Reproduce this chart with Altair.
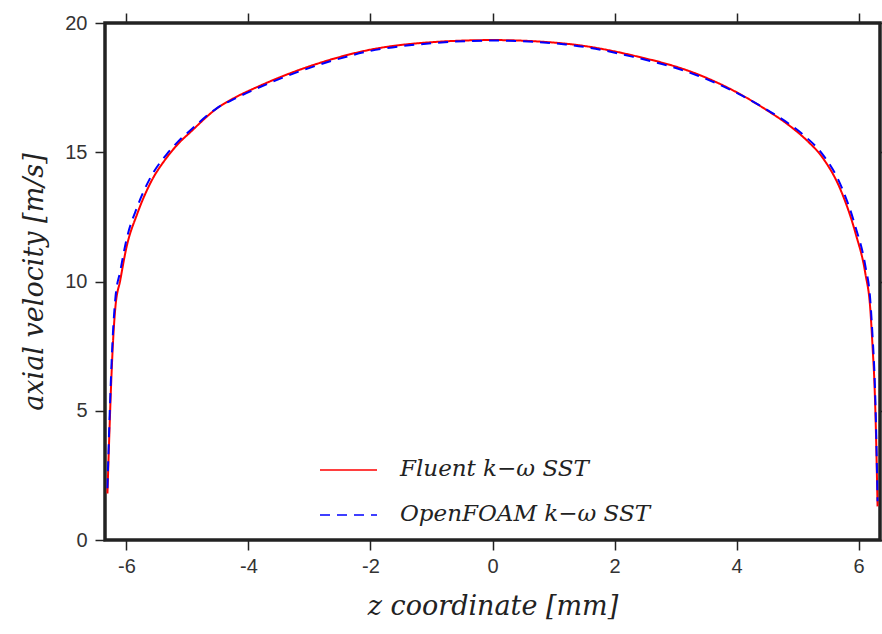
import altair as alt
import pandas as pd

z_values = [-6.31, -6.28, -6.25, -6.22, -6.18, -6.1, -6.0, -5.82, -5.61, -5.33, -5.15, -4.95, -4.52,
            -4.2, -3.86, -3.15, -2.6, -2.06, -0.98, 0.0, 1.2, 2.29, 3.38, 4.04, 4.5, 4.86, 5.15, 5.4,
            5.73, 5.95, 6.11, 6.19, 6.23, 6.26, 6.28, 6.31]
u_fluent = [1.8, 4.0, 6.0, 7.6, 9.0, 10.05, 11.3, 12.63, 13.79, 14.82, 15.33, 15.78, 16.69,
            17.14, 17.52, 18.2, 18.62, 18.94, 19.26, 19.34, 19.2, 18.75, 18.0, 17.27, 16.62, 16.04,
            15.46, 14.82, 13.4, 11.86, 10.31, 8.96, 7.4, 6.0, 4.5, 1.3]
u_openfoam = [2.0, 4.4, 6.4, 8.0, 9.35, 10.4, 11.6, 12.9, 14.0, 14.95, 15.42, 15.85, 16.7,
              17.1, 17.47, 18.14, 18.56, 18.89, 19.22, 19.32, 19.17, 18.7, 17.95, 17.25, 16.64, 16.1,
              15.56, 14.95, 13.6, 12.1, 10.6, 9.3, 7.8, 6.4, 4.9, 1.5]

series_names = ["Fluent k\u2212\u03c9 SST", "OpenFOAM k\u2212\u03c9 SST"]
series_colors = ["#ff0000", "#0000ff"]
series_dashes = [[1, 0], [10, 7]]
x_ticks = [-6, -4, -2, 0, 2, 4, 6]
y_ticks = [0, 5, 10, 15, 20]

df = pd.concat([
    pd.DataFrame({"z": z_values, "u": u_fluent, "series": series_names[0], "o": range(len(z_values))}),
    pd.DataFrame({"z": z_values, "u": u_openfoam, "series": series_names[1], "o": range(len(z_values))}),
])
legend_df = pd.DataFrame({"series": series_names, "row": [0, 1]})

tick_color = "#222222"
label_font = "Liberation Sans"
title_font = "DejaVu Serif"

xscale = alt.Scale(domain=[-6.35, 6.35], nice=False, zero=False)
yscale = alt.Scale(domain=[0, 20], nice=False)
cscale = alt.Scale(domain=series_names, range=series_colors)
dscale = alt.Scale(domain=series_names, range=series_dashes)

main = alt.Chart(df).mark_line(strokeWidth=2, interpolate="monotone").encode(
    x=alt.X("z:Q", scale=xscale,
            axis=alt.Axis(values=x_ticks, title="z coordinate [mm]", domain=False, grid=False,
                          tickSize=10, tickWidth=1.5, tickColor=tick_color, labelFont=label_font,
                          labelFontSize=20, labelColor="#333333", labelPadding=6,
                          labelExpr="replace(datum.label, '\u2212', '-')",
                          titleFont=title_font, titleFontStyle="italic", titleFontWeight="normal",
                          titleFontSize=27, titleColor="#222222", titlePadding=17)),
    y=alt.Y("u:Q", scale=yscale,
            axis=alt.Axis(values=y_ticks, title="axial velocity [m/s]", domain=False, grid=False,
                          tickSize=10, tickWidth=1.5, tickColor=tick_color, labelFont=label_font,
                          labelFontSize=20, labelColor="#333333", labelPadding=8,
                          titleFont=title_font, titleFontStyle="italic", titleFontWeight="normal",
                          titleFontSize=27, titleColor="#222222", titlePadding=16)),
    color=alt.Color("series:N", scale=cscale, legend=None),
    strokeDash=alt.StrokeDash("series:N", scale=dscale, legend=None),
    order="o:Q",
)

frame = alt.Chart(df).mark_line(opacity=0).encode(
    x=alt.X("z:Q", scale=xscale,
            axis=alt.Axis(values=x_ticks, orient="top", labels=False, title=None, domain=False,
                          grid=False, tickSize=10, tickWidth=1.5, tickColor=tick_color)),
    y=alt.Y("u:Q", scale=yscale,
            axis=alt.Axis(values=y_ticks, orient="right", labels=False, title=None, domain=False,
                          grid=False, tickSize=10, tickWidth=1.5, tickColor=tick_color)),
    detail="series:N",
    order="o:Q",
)

leg_y = alt.Y("row:Q", scale=alt.Scale(domain=[0, 1], range=[447, 492]), axis=None)

leg_rule = alt.Chart(legend_df).mark_rule(strokeWidth=1.5).encode(
    x=alt.value(215), x2=alt.value(272), y=leg_y,
    color=alt.Color("series:N", scale=cscale, legend=None),
    strokeDash=alt.StrokeDash("series:N", scale=dscale, legend=None),
)

leg_text = alt.Chart(legend_df).mark_text(
    align="left", baseline="middle", font=title_font, fontStyle="italic", fontSize=23,
    color="#222222", dy=-1,
).encode(x=alt.value(295), y=leg_y, text="series:N")

chart = alt.layer(main, frame, leg_rule, leg_text).resolve_scale(
    y="independent"
).resolve_axis(x="independent", y="independent").properties(
    width=775, height=517,
    autosize=alt.AutoSizeParams(type="none"),
    padding={"left": 105, "top": 23, "right": 2, "bottom": 94},
    background="white",
).configure_view(stroke="#222222", strokeWidth=3.5)

chart.save("out.html", embed_options={"renderer": "svg", "actions": False})
